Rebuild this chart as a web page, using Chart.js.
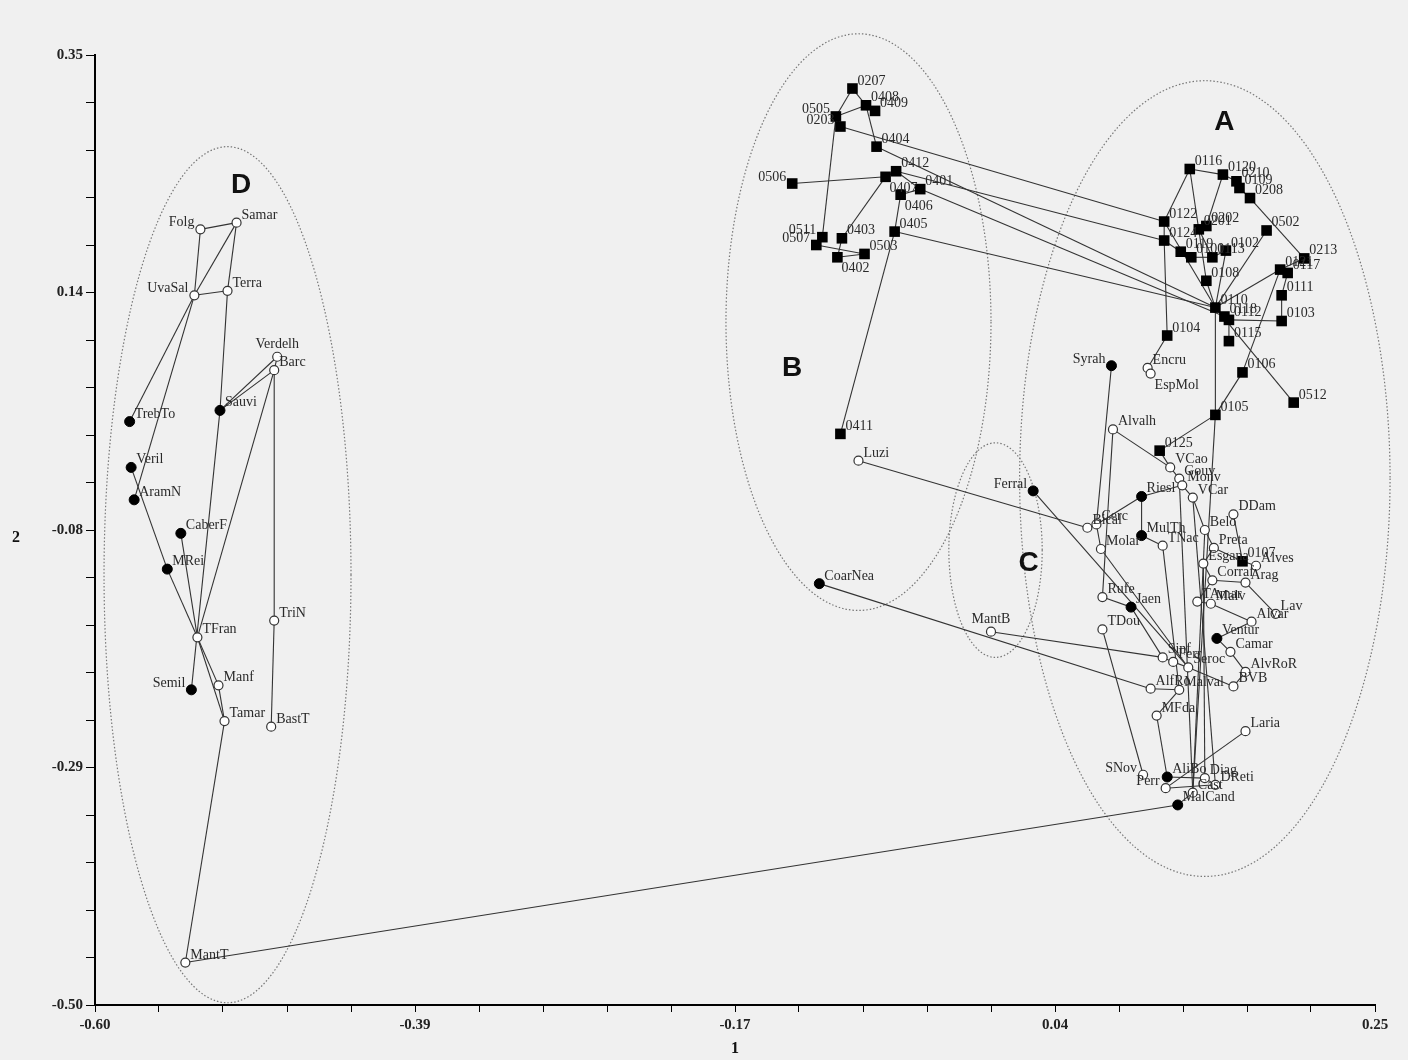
<!DOCTYPE html>
<html>
<head>
<meta charset="utf-8">
<script src="https://cdn.jsdelivr.net/npm/chart.js@4"></script>
<style>
  body { margin: 0; background: #f0f0f0; }
  #wrap { width: 1408px; height: 1060px; position: relative; }
</style>
</head>
<body>
<div id="wrap"><canvas id="chart"></canvas></div>
<script>
// tick labels as printed on the axes
const xTickLabels = ["-0.60", "-0.39", "-0.17", "0.04", "0.25"];
const yTickLabels = ["-0.50", "-0.29", "-0.08", "0.14", "0.35"];

// filled squares
const sqNames = ["0207","0408","0409","0505","0203","0404","0412","0407","0401","0406","0506","0405","0511","0403","0507","0503","0402","0411",
  "0116","0120","0210","0109","0208","0122","0124","0201","0202","0119","0101","0113","0102","0502","0213","0121","0117","0108","0111","0103","0110","0118","0112","0115","0104","0106","0512","0105","0125","0107"];
const sqX = [-0.097,-0.088,-0.082,-0.108,-0.105,-0.081,-0.068,-0.075,-0.052,-0.065,-0.137,-0.069,-0.117,-0.104,-0.121,-0.089,-0.107,-0.105,
  0.127,0.149,0.158,0.160,0.167,0.110,0.110,0.133,0.138,0.121,0.128,0.142,0.151,0.178,0.203,0.187,0.192,0.138,0.188,0.188,0.144,0.150,0.153,0.153,0.112,0.162,0.196,0.144,0.107,0.162];
const sqY = [0.320,0.305,0.300,0.295,0.286,0.268,0.246,0.241,0.230,0.225,0.235,0.192,0.187,0.186,0.180,0.172,0.169,0.011,
  0.248,0.243,0.237,0.231,0.222,0.201,0.184,0.194,0.197,0.174,0.169,0.169,0.175,0.193,0.168,0.158,0.155,0.148,0.135,0.112,0.124,0.116,0.113,0.094,0.099,0.066,0.039,0.028,-0.004,-0.103];

// filled circles
const dotNames = ["TrebTo","Sauvi","Veril","AramN","CaberF","MRei","Semil","Syrah","Riesl","MulTh","Jaen","Ventur","AliBo","MalCand","Ferral","CoarNea"];
const dotX = [-0.577,-0.517,-0.576,-0.574,-0.543,-0.552,-0.536,0.075,0.095,0.095,0.088,0.145,0.112,0.119,0.023,-0.119];
const dotY = [0.022,0.032,-0.019,-0.048,-0.078,-0.110,-0.218,0.072,-0.045,-0.080,-0.144,-0.172,-0.296,-0.321,-0.040,-0.123];

// open circles
const ringNames = ["Folg","Samar","UvaSal","Terra","Verdelh","Barc","TFran","TriN","Manf","Tamar","BastT","MantT",
  "Encru","EspMol","Alvalh","VCao","Gouv","Monv","VCar","DDam","Bical","Cerc","TNac","Belo","Molar","Preta","Esgana","Alves",
  "Corraf","Arag","Rufe","TAmar","Malv","Lav","Alvar","TDou","Camar","Sinf","Ferr","Seroc","AlvRoR","BVB","AlfRo","Malval",
  "MFda","Laria","SNov","Diag","Perr","DReti","Cast","Luzi","MantB"];
const ringX = [-0.530,-0.506,-0.534,-0.512,-0.479,-0.481,-0.532,-0.481,-0.518,-0.514,-0.483,-0.540,
  0.099,0.101,0.076,0.114,0.120,0.122,0.129,0.156,0.059,0.065,0.109,0.137,0.068,0.143,0.136,0.171,
  0.142,0.164,0.069,0.132,0.141,0.184,0.168,0.069,0.154,0.109,0.116,0.126,0.164,0.156,0.101,0.120,
  0.105,0.164,0.096,0.137,0.111,0.144,0.129,-0.093,-0.005];
const ringY = [0.194,0.200,0.135,0.139,0.080,0.068,-0.171,-0.156,-0.214,-0.246,-0.251,-0.462,
  0.070,0.065,0.015,-0.019,-0.029,-0.035,-0.046,-0.061,-0.073,-0.070,-0.089,-0.075,-0.092,-0.091,-0.105,-0.107,
  -0.120,-0.122,-0.135,-0.139,-0.141,-0.150,-0.157,-0.164,-0.184,-0.189,-0.193,-0.198,-0.202,-0.215,-0.217,-0.218,
  -0.241,-0.255,-0.294,-0.297,-0.306,-0.303,-0.310,-0.013,-0.166];

// links of the tree
const edges = [
  ["Folg","Samar"],["Folg","UvaSal"],["Samar","UvaSal"],["Samar","Terra"],["UvaSal","Terra"],["UvaSal","TrebTo"],["UvaSal","AramN"],
  ["Terra","Sauvi"],["Verdelh","Sauvi"],["Barc","Sauvi"],["Barc","TFran"],["Verdelh","Barc"],["Barc","TriN"],["TriN","BastT"],
  ["Veril","MRei"],["MRei","TFran"],["CaberF","TFran"],["Sauvi","Semil"],["TFran","Manf"],["TFran","Tamar"],["Manf","Tamar"],
  ["Tamar","MantT"],["MantT","MalCand"],
  ["0207","0408"],["0207","0505"],["0505","0408"],["0408","0409"],["0505","0203"],["0408","0404"],["0506","0407"],["0407","0412"],
  ["0412","0401"],["0407","0403"],["0406","0405"],["0405","0411"],["0505","0511"],["0511","0507"],["0507","0503"],["0403","0402"],
  ["0402","0503"],["0401","0406"],
  ["0203","0122"],["0404","0110"],["0401","0118"],["0412","0124"],["0405","0110"],
  ["0116","0122"],["0116","0120"],["0120","0210"],["0210","0109"],["0109","0208"],["0208","0213"],["0502","0110"],["0122","0124"],
  ["0124","0104"],["0124","0119"],["0119","0101"],["0101","0113"],["0201","0202"],["0202","0120"],["0201","0113"],["0113","0102"],
  ["0102","0110"],["0108","0110"],["0213","0121"],["0121","0117"],["0117","0111"],["0111","0103"],["0121","0110"],["0103","0112"],
  ["0110","0118"],["0118","0112"],["0112","0115"],["0110","0105"],["0106","0105"],["0106","0121"],["0110","0512"],["0105","0125"],
  ["0125","VCao"],["0105","Cast"],["0122","0110"],["0116","0108"],["0104","Encru"],["Encru","EspMol"],
  ["Syrah","Cerc"],["Alvalh","VCao"],["Alvalh","Rufe"],["VCao","Gouv"],["Gouv","Monv"],["Monv","Riesl"],["Monv","VCar"],
  ["Riesl","MulTh"],["Riesl","Cerc"],["Bical","Cerc"],["Luzi","Bical"],["Cerc","Molar"],["Molar","Seroc"],["MulTh","TNac"],
  ["VCar","Belo"],["DDam","0107"],["Belo","Preta"],["Preta","0107"],["0107","Alves"],["Preta","Esgana"],["Esgana","Corraf"],
  ["Corraf","Arag"],["Arag","Lav"],["Corraf","TAmar"],["TAmar","Malv"],["Malv","Alvar"],["Alvar","Ventur"],["Ventur","Camar"],
  ["Camar","AlvRoR"],["AlvRoR","BVB"],["Seroc","BVB"],["Rufe","Jaen"],["Jaen","Sinf"],["TDou","SNov"],["Ferral","Seroc"],
  ["CoarNea","AlfRo"],["MantB","Sinf"],["Sinf","Ferr"],["Ferr","Seroc"],["AlfRo","Malval"],["Malval","MFda"],["MFda","AliBo"],
  ["Laria","Perr"],["Perr","DReti"],["DReti","Diag"],["Diag","AliBo"],["Cast","MalCand"],["TNac","Malval"],["Belo","Cast"],
  ["VCar","DReti"],["Gouv","Cast"],["Esgana","Diag"]
];

// cluster letters
const groupNames = ["A", "B", "C", "D"];
const groupX = [0.150, -0.137, 0.020, -0.503];
const groupY = [0.290, 0.070, -0.105, 0.233];

// dotted cluster outlines (centre and half axes in data units)
const ellipses = [
  { cx: 0.137, cy: -0.029, rx: 0.123, ry: 0.356 },
  { cx: -0.093, cy: 0.111, rx: 0.088, ry: 0.258 },
  { cx: -0.002, cy: -0.093, rx: 0.031, ry: 0.096 },
  { cx: -0.512, cy: -0.115, rx: 0.082, ry: 0.383 }
];

// label placement, default is up-right of the marker
const leftLabels = ["Folg","UvaSal","Semil","0505","0203","0506","0511","0507","SNov","Perr","Ferral","Syrah"];
const aboveLabels = ["Verdelh","MantB"];
const belowLabels = ["0402","0406","0407","EspMol"];

const pos = {};
function addPoints(names, xs, ys) {
  return names.map((n, i) => {
    pos[n] = { x: xs[i], y: ys[i] };
    return { x: xs[i], y: ys[i], name: n };
  });
}
const sqData = addPoints(sqNames, sqX, sqY);
const dotData = addPoints(dotNames, dotX, dotY);
const ringData = addPoints(ringNames, ringX, ringY);

const edgeSets = edges.map(e => ({
  type: "scatter",
  data: [pos[e[0]], pos[e[1]]],
  showLine: true,
  borderColor: "#333",
  borderWidth: 1.1,
  pointRadius: 0,
  order: 5
}));

const decorPlugin = {
  id: "decor",
  beforeDatasetsDraw(chart) {
    const ctx = chart.ctx, xs = chart.scales.x, ys = chart.scales.y;
    ctx.save();
    ctx.strokeStyle = "#777";
    ctx.lineWidth = 1.2;
    ctx.setLineDash([1.5, 2]);
    ellipses.forEach(e => {
      const cx = xs.getPixelForValue(e.cx), cy = ys.getPixelForValue(e.cy);
      const rx = Math.abs(xs.getPixelForValue(e.cx + e.rx) - cx);
      const ry = Math.abs(ys.getPixelForValue(e.cy + e.ry) - cy);
      ctx.beginPath();
      ctx.ellipse(cx, cy, rx, ry, 0, 0, Math.PI * 2);
      ctx.stroke();
    });
    ctx.setLineDash([]);
    ctx.fillStyle = "#111";
    ctx.font = "bold 28px 'Liberation Sans', Arial";
    ctx.textAlign = "center";
    ctx.textBaseline = "middle";
    groupNames.forEach((g, i) => {
      ctx.fillText(g, xs.getPixelForValue(groupX[i]), ys.getPixelForValue(groupY[i]));
    });
    ctx.restore();
  },
  afterDraw(chart) {
    const ctx = chart.ctx, xs = chart.scales.x, ys = chart.scales.y;
    ctx.save();
    ctx.fillStyle = "#2a2a2a";
    ctx.font = "14px 'Liberation Serif', 'DejaVu Serif', serif";
    ctx.textBaseline = "alphabetic";
    [sqData, dotData, ringData].forEach(set => {
      set.forEach(p => {
        const px = xs.getPixelForValue(p.x), py = ys.getPixelForValue(p.y);
        if (leftLabels.includes(p.name)) {
          ctx.textAlign = "right";
          ctx.fillText(p.name, px - 6, py - 3);
        } else if (aboveLabels.includes(p.name)) {
          ctx.textAlign = "center";
          ctx.fillText(p.name, px, py - 9);
        } else if (belowLabels.includes(p.name)) {
          ctx.textAlign = "left";
          ctx.fillText(p.name, px + 4, py + 15);
        } else {
          ctx.textAlign = "left";
          ctx.fillText(p.name, px + 5, py - 4);
        }
      });
    });
    // axis names
    ctx.fillStyle = "#111";
    ctx.font = "bold 16px 'Liberation Serif', serif";
    ctx.textAlign = "center";
    ctx.fillText("2", 16, ys.getPixelForValue(-0.08) + 6);
    ctx.fillText("1", (xs.left + xs.right) / 2, 1053);
    ctx.restore();
  }
};

const bgPlugin = {
  id: "bg",
  beforeDraw(chart) {
    const ctx = chart.ctx;
    ctx.save();
    ctx.fillStyle = "#f0f0f0";
    ctx.fillRect(0, 0, chart.width, chart.height);
    ctx.restore();
  }
};

function minorTicks(min, step) {
  return scale => {
    const t = [];
    for (let i = 0; i <= 20; i++) t.push({ value: min + i * step / 5 });
    scale.ticks = t;
  };
}

new Chart(document.getElementById("chart"), {
  type: "scatter",
  data: {
    datasets: edgeSets.concat([
      {
        data: sqData, pointStyle: "rect", pointRadius: 7.5,
        backgroundColor: "#000", borderColor: "#000", borderWidth: 0, order: 1
      },
      {
        data: dotData, pointStyle: "circle", pointRadius: 5,
        backgroundColor: "#000", borderColor: "#000", borderWidth: 1, order: 1
      },
      {
        data: ringData, pointStyle: "circle", pointRadius: 4.5,
        backgroundColor: "#fff", borderColor: "#333", borderWidth: 1.2, order: 1
      }
    ])
  },
  options: {
    responsive: true,
    maintainAspectRatio: false,
    animation: false,
    layout: { padding: { top: 55, right: 33, left: 0, bottom: 0 } },
    plugins: { legend: { display: false }, tooltip: { enabled: false } },
    scales: {
      x: {
        type: "linear", min: -0.6, max: 0.25,
        afterBuildTicks: minorTicks(-0.6, 0.2125),
        afterFit: s => { s.height = 55; },
        grid: { drawOnChartArea: false, drawTicks: true, tickLength: 7, color: "#000" },
        border: { display: true, color: "#000", width: 2 },
        ticks: {
          autoSkip: false, maxRotation: 0, padding: 4, color: "#222",
          font: { family: "'Liberation Serif', serif", weight: "bold", size: 15 },
          callback: (v, i) => (i % 5 === 0 ? xTickLabels[i / 5] : "")
        }
      },
      y: {
        type: "linear", min: -0.5, max: 0.35,
        afterBuildTicks: minorTicks(-0.5, 0.2125),
        afterFit: s => { s.width = 95; },
        grid: { drawOnChartArea: false, drawTicks: true, tickLength: 9, color: "#000" },
        border: { display: true, color: "#000", width: 2 },
        ticks: {
          autoSkip: false, padding: 3, color: "#222",
          font: { family: "'Liberation Serif', serif", weight: "bold", size: 15 },
          callback: (v, i) => (i % 5 === 0 ? yTickLabels[i / 5] : "")
        }
      }
    }
  },
  plugins: [bgPlugin, decorPlugin]
});
</script>
</body>
</html>
